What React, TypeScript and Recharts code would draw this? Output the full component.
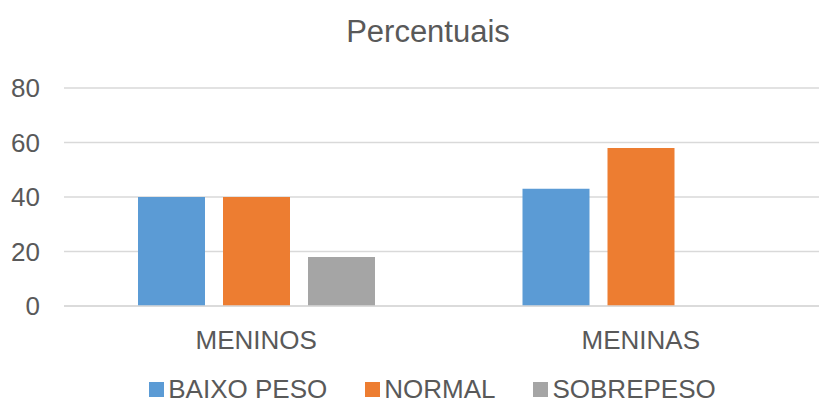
import React from "react";
import { BarChart, Bar, XAxis, YAxis, CartesianGrid, Legend } from "recharts";

const categories = ["MENINOS", "MENINAS"];
const baixoPeso = [40, 43];
const normal = [40, 58];
const sobrepeso = [18, 0];
const yTicks = [0, 20, 40, 60, 80];

const seriesNames = ["BAIXO PESO", "NORMAL", "SOBREPESO"];
const colors = ["#5B9BD5", "#ED7D31", "#A5A5A5"];

const data = categories.map((c, i) => ({
  name: c,
  baixo: baixoPeso[i],
  normal: normal[i],
  sobre: sobrepeso[i],
}));

const FONT = '"Liberation Sans", Arial, sans-serif';
const TEXT = "#595959";

const LegendContent = () => (
  <div
    style={{
      width: 860,
      height: 40,
      boxSizing: "border-box",
      paddingTop: 17,
      paddingLeft: 5,
      display: "flex",
      justifyContent: "center",
      alignItems: "flex-start",
      fontFamily: FONT,
      fontSize: 26,
      lineHeight: "22px",
      color: TEXT,
    }}
  >
    {seriesNames.map((n, i) => (
      <div
        key={n}
        style={{ display: "flex", alignItems: "flex-start", marginRight: i < 2 ? 38 : 0 }}
      >
        <span
          style={{
            display: "inline-block",
            width: 15,
            height: 15,
            background: colors[i],
            marginTop: 4,
            marginRight: 4,
          }}
        />
        <span style={{ whiteSpace: "nowrap" }}>{n}</span>
      </div>
    ))}
  </div>
);

export default function App() {
  return (
    <div
      style={{
        position: "absolute",
        left: 0,
        top: 0,
        width: 819,
        height: 401,
        overflow: "hidden",
        background: "#fff",
      }}
    >
      <div
        style={{
          position: "absolute",
          left: 0,
          top: 16,
          width: 856,
          textAlign: "center",
          fontFamily: FONT,
          fontSize: 31,
          lineHeight: "31px",
          color: TEXT,
          whiteSpace: "nowrap",
        }}
      >
        Percentuais
      </div>
      <BarChart
        width={860}
        height={401}
        data={data}
        margin={{ top: 88, right: 27, bottom: 0, left: 0 }}
        barGap={18}
        barSize={67}
      >
        <CartesianGrid vertical={false} stroke="#d9d9d9" strokeWidth={1.5} />
        <XAxis
          dataKey="name"
          height={55}
          tickSize={0}
          tickMargin={25}
          axisLine={{ stroke: "#d9d9d9", strokeWidth: 1.5 }}
          tickLine={false}
          tick={{ fill: TEXT, fontSize: 26, fontFamily: FONT }}
        />
        <YAxis
          width={64}
          domain={[0, 80]}
          ticks={yTicks}
          axisLine={false}
          tickLine={false}
          tickSize={0}
          tickMargin={24}
          tick={{ fill: TEXT, fontSize: 26, fontFamily: FONT }}
        />
        <Legend
          verticalAlign="bottom"
          content={<LegendContent />}
          wrapperStyle={{ left: 0, width: 860, height: 40 }}
        />
        <Bar dataKey="baixo" name={seriesNames[0]} fill={colors[0]} isAnimationActive={false} />
        <Bar dataKey="normal" name={seriesNames[1]} fill={colors[1]} isAnimationActive={false} />
        <Bar dataKey="sobre" name={seriesNames[2]} fill={colors[2]} isAnimationActive={false} />
      </BarChart>
    </div>
  );
}
